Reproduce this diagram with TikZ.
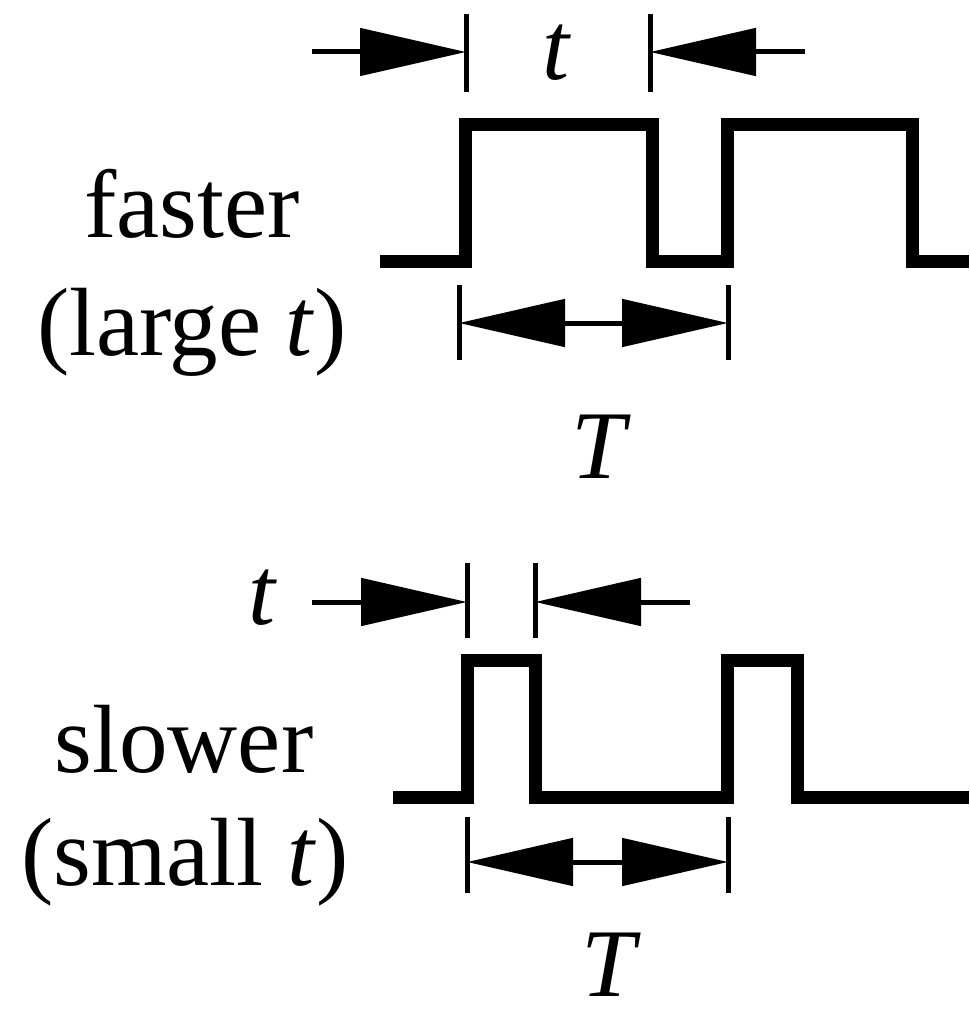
\documentclass[tikz,border=0pt]{standalone}
\usepackage{fontspec}
\setmainfont{Liberation Serif}
\usetikzlibrary{arrows.meta}
\begin{document}
\begin{tikzpicture}[x=1pt,y=-1pt,
  wave/.style={line width=13pt, line join=miter, line cap=butt},
  tickmark/.style={line width=5pt},
  dimline/.style={line width=5pt},
  hd/.tip={Triangle[length=106pt,width=47pt]},
  lbl/.style={font=\fontsize{97}{100}\selectfont, inner sep=0pt, anchor=base}]
\useasboundingbox (0,0) rectangle (969,1011);

% ---------- top (faster) ----------
\draw[wave] (380,261) -| (465,125) -| (652,261) -| (727,125) -| (912,261) -- (969,261);
\coordinate (ta1) at (466,14);  \coordinate (tb1) at (466,92);
\coordinate (ta2) at (650,14);  \coordinate (tb2) at (650,92);
\draw[tickmark] (ta1) -- (tb1);
\draw[tickmark] (ta2) -- (tb2);
\coordinate (tl) at (466,52); \coordinate (tr) at (650,52);
\coordinate (tlfree) at (312,52); \coordinate (trfree) at (805,52);
\draw[dimline,-hd] (tlfree) -- (tl);
\draw[dimline,-hd] (trfree) -- (tr);
\node[lbl] (tlab1) at (556,80) {\itshape t};

\coordinate (Ta1) at (459,285); \coordinate (Tb1) at (459,360);
\coordinate (Ta2) at (728,285); \coordinate (Tb2) at (728,360);
\draw[tickmark] (Ta1) -- (Tb1);
\draw[tickmark] (Ta2) -- (Tb2);
\coordinate (Tl) at (459,323); \coordinate (Tr) at (728,323);
\draw[dimline,hd-hd] (Tl) -- (Tr);
\node[lbl] (Tlab1) at (598,478) {\itshape T};

\node[lbl] (fast) at (192,237) {faster};
\node[lbl] (large) at (192,355) {(large \textit{t})};

% ---------- bottom (slower) ----------
\draw[wave] (393,797) -| (467,660) -| (535,797) -| (727,660) -| (797,797) -- (969,797);
\coordinate (sa1) at (467,563); \coordinate (sb1) at (467,638);
\coordinate (sa2) at (535,563); \coordinate (sb2) at (535,638);
\draw[tickmark] (sa1) -- (sb1);
\draw[tickmark] (sa2) -- (sb2);
\coordinate (sl) at (467,602); \coordinate (sr) at (535,602);
\coordinate (slfree) at (312,602); \coordinate (srfree) at (690,602);
\draw[dimline,-hd] (slfree) -- (sl);
\draw[dimline,-hd] (srfree) -- (sr);
\node[lbl] (tlab2) at (262,624) {\itshape t};

\coordinate (Sa1) at (467,817); \coordinate (Sb1) at (467,893);
\coordinate (Sa2) at (728,817); \coordinate (Sb2) at (728,893);
\draw[tickmark] (Sa1) -- (Sb1);
\draw[tickmark] (Sa2) -- (Sb2);
\coordinate (Sl) at (467,862); \coordinate (Sr) at (728,862);
\draw[dimline,hd-hd] (Sl) -- (Sr);
\node[lbl, text depth=0pt] (Tlab2) at (608,996) {\itshape T};

\node[lbl] (slow) at (184,772) {slower};
\node[lbl] (small) at (185,885) {(small \textit{t})};
\end{tikzpicture}
\end{document}
